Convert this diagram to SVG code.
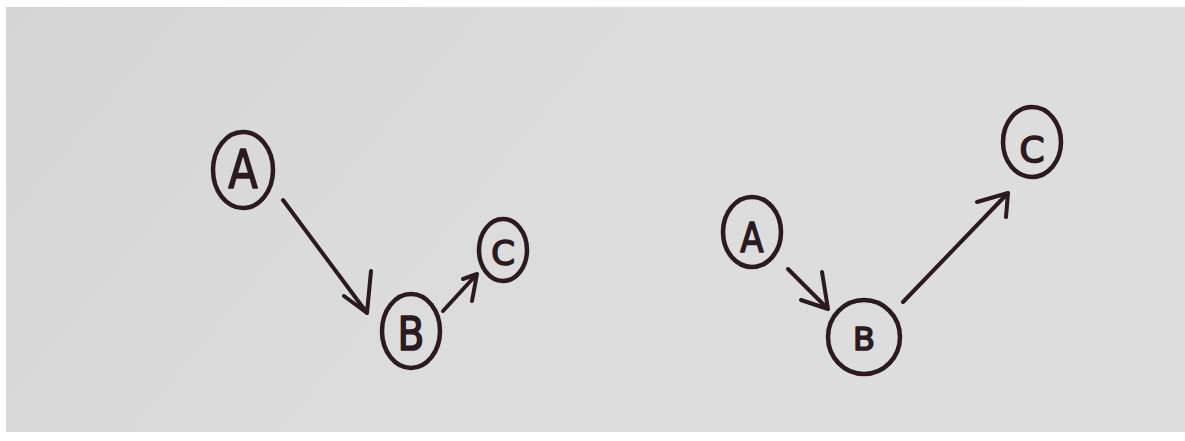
<svg xmlns="http://www.w3.org/2000/svg" width="1185" height="441" viewBox="0 0 1185 441">
  <defs>
    <linearGradient id="paper" x1="0" y1="0" x2="1" y2="0.3">
      <stop offset="0" stop-color="#d5d5d5"/>
      <stop offset="0.5" stop-color="#dcdcdc"/>
      <stop offset="1" stop-color="#dddddd"/>
    </linearGradient>
    <style>
      .ring { fill: none; stroke: #2b1a1f; stroke-width: 4.5; }
      .lbl { font-family: "DejaVu Sans", "Liberation Sans", sans-serif; fill: #2b1a1f; stroke: #2b1a1f; stroke-width: 1.6; stroke-linejoin: round; text-anchor: middle; }
      .edge { fill: none; stroke: #2b1a1f; stroke-width: 4; stroke-linecap: round; stroke-linejoin: round; }
    </style>
  </defs>
  <rect x="0" y="0" width="1185" height="441" fill="#ffffff"/>
  <rect x="6" y="7" width="1179" height="425" fill="url(#paper)"/>

  <g id="left-A">
    <ellipse class="ring" cx="243" cy="170" rx="30" ry="38"/>
    <text class="lbl" x="243" y="188" font-size="54" transform="translate(243 170) scale(0.8 1) translate(-243 -170)">A</text>
  </g>
  <g id="left-B">
    <ellipse class="ring" cx="411" cy="331" rx="29" ry="37"/>
    <text class="lbl" x="411" y="350" font-size="46" transform="translate(411 331) scale(0.85 1) translate(-411 -331)">B</text>
  </g>
  <g id="left-C">
    <ellipse class="ring" cx="503" cy="250" rx="24" ry="31"/>
    <text class="lbl" x="503" y="265" font-size="34">C</text>
  </g>
  <g id="right-A">
    <ellipse class="ring" cx="752" cy="232" rx="29" ry="35"/>
    <text class="lbl" x="752" y="252" font-size="40" transform="translate(752 232) scale(0.85 1) translate(-752 -232)">A</text>
  </g>
  <g id="right-B">
    <ellipse class="ring" cx="864" cy="337" rx="36" ry="37"/>
    <text class="lbl" x="864" y="350" font-size="32">B</text>
  </g>
  <g id="right-C">
    <ellipse class="ring" cx="1032" cy="142" rx="29" ry="35"/>
    <text class="lbl" x="1032" y="162" font-size="36">C</text>
  </g>

  <g id="connectors">
    <path class="edge" d="M283 200 L367 313 M344 296 L367 313 L371 271"/>
    <path class="edge" d="M443 311 L477 274 M463 279 L477 274 L472 301"/>
    <path class="edge" d="M788 269 L828 309 M801 300 L828 309 L822 272"/>
    <path class="edge" d="M903 302 L1008 193 M977 202 L1008 193 L1006 217"/>
  </g>
</svg>
